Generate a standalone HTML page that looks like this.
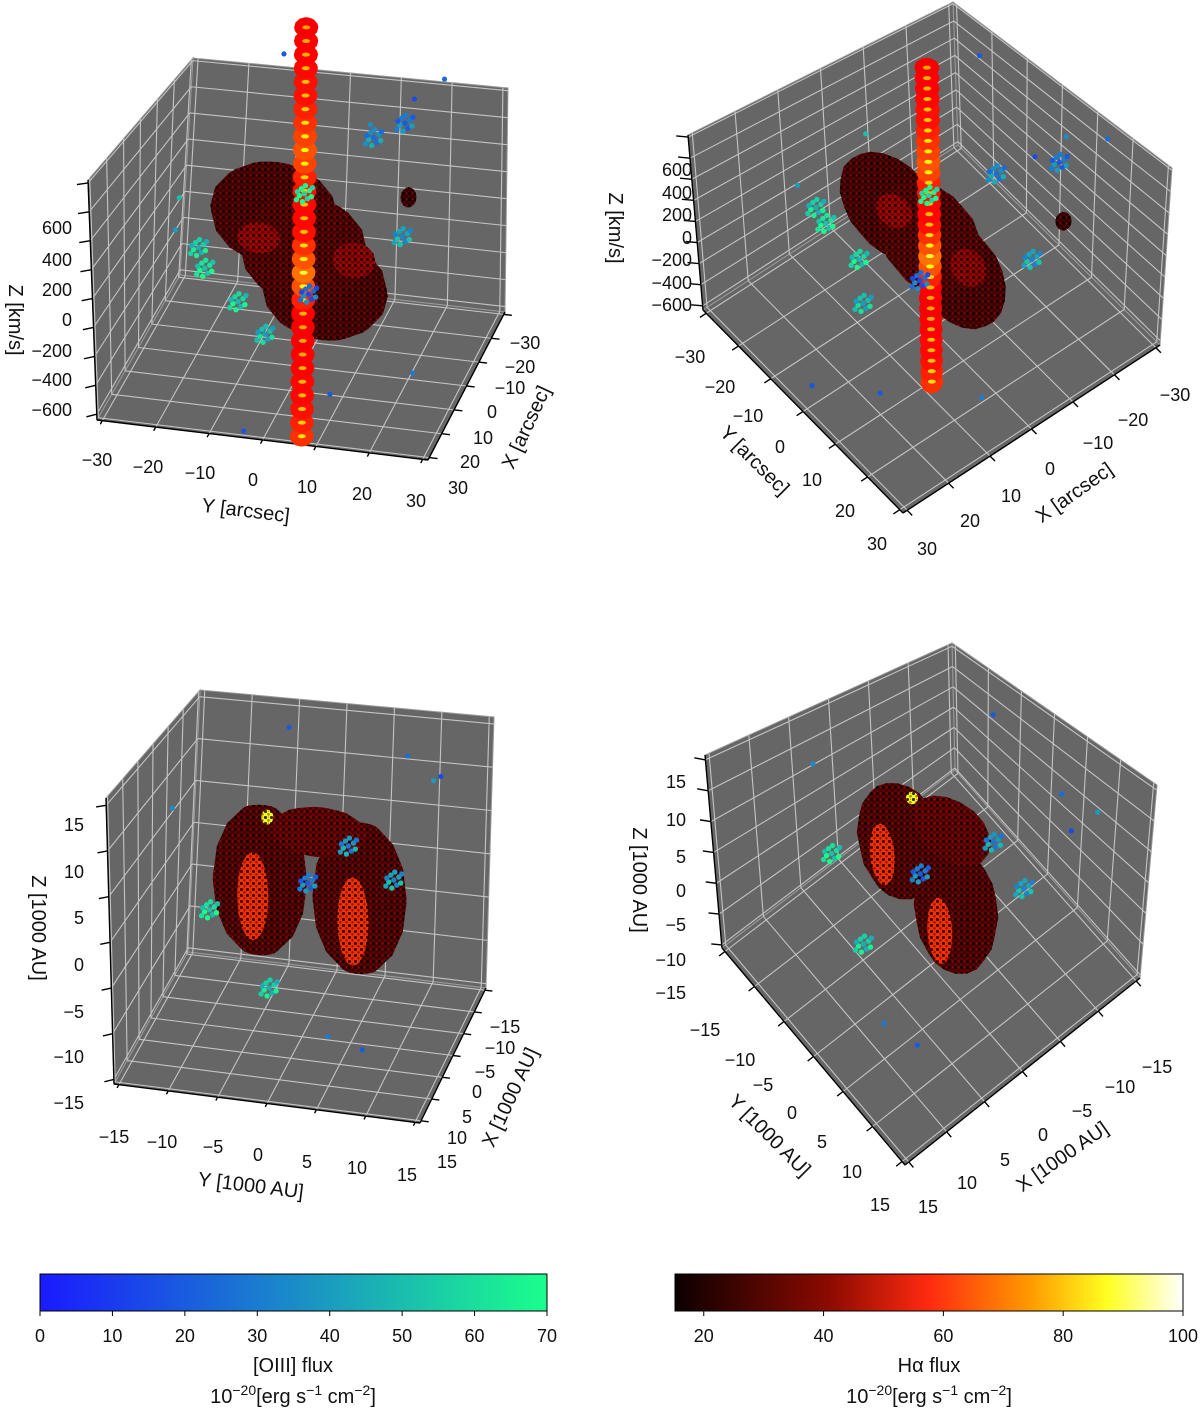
<!DOCTYPE html>
<html><head><meta charset="utf-8">
<style>
html,body{margin:0;padding:0;background:#fff;}
svg{display:block;font-family:"Liberation Sans","DejaVu Sans",sans-serif;}
.tk{font-size:18px;fill:#111;}
.tt{font-size:20px;fill:#111;}
</style></head>
<body>
<svg id="fig" width="1200" height="1409" viewBox="0 0 1200 1409" xmlns="http://www.w3.org/2000/svg">
<defs>
<pattern id="speck" width="6" height="6" patternUnits="userSpaceOnUse">
<circle cx="1.5" cy="1.5" r="1.6" fill="#000" opacity="0.8"/>
<circle cx="4.5" cy="4.3" r="1.3" fill="#000" opacity="0.45"/>
<circle cx="4.6" cy="1.2" r="0.8" fill="#c02000" opacity="0.5"/>
</pattern>
<linearGradient id="gWinter" x1="0" x2="1" y1="0" y2="0">
<stop offset="0" stop-color="#1a1aff"/><stop offset="0.5" stop-color="#1a8cc8"/><stop offset="1" stop-color="#1aff8c"/>
</linearGradient>
<linearGradient id="gHot" x1="0" x2="1" y1="0" y2="0">
<stop offset="0" stop-color="#0b0000"/><stop offset="0.3" stop-color="#8a0a00"/><stop offset="0.5" stop-color="#ff2a10"/><stop offset="0.7" stop-color="#ff9a00"/><stop offset="0.85" stop-color="#ffff20"/><stop offset="1" stop-color="#ffffff"/>
</linearGradient>
</defs>
<g id="panels"></g>

<g class="tk">
<text x="72" y="234" text-anchor="end">600</text><text x="72" y="266" text-anchor="end">400</text><text x="72" y="296" text-anchor="end">200</text><text x="72" y="326" text-anchor="end">0</text><text x="72" y="357" text-anchor="end">−200</text><text x="72" y="386" text-anchor="end">−400</text><text x="72" y="416" text-anchor="end">−600</text>
<text x="97" y="466" text-anchor="middle">−30</text><text x="148" y="473" text-anchor="middle">−20</text><text x="200" y="479" text-anchor="middle">−10</text><text x="253" y="486" text-anchor="middle">0</text><text x="307" y="493" text-anchor="middle">10</text><text x="362" y="500" text-anchor="middle">20</text><text x="416" y="507" text-anchor="middle">30</text>
<text x="525" y="349" text-anchor="middle">−30</text><text x="520" y="373" text-anchor="middle">−20</text><text x="510" y="394" text-anchor="middle">−10</text><text x="492" y="418" text-anchor="middle">0</text><text x="483" y="444" text-anchor="middle">10</text><text x="470" y="468" text-anchor="middle">20</text><text x="458" y="494" text-anchor="middle">30</text>
</g>
<text class="tt" transform="translate(9,320) rotate(90)" text-anchor="middle">Z [km/s]</text>
<text class="tt" transform="translate(245,517) rotate(7)" text-anchor="middle">Y [arcsec]</text>
<text class="tt" transform="translate(532,430) rotate(-65)" text-anchor="middle">X [arcsec]</text>

<g class="tk">
<text x="692" y="176" text-anchor="end">600</text><text x="692" y="199" text-anchor="end">400</text><text x="692" y="221" text-anchor="end">200</text><text x="692" y="244" text-anchor="end">0</text><text x="692" y="266" text-anchor="end">−200</text><text x="692" y="289" text-anchor="end">−400</text><text x="692" y="311" text-anchor="end">−600</text>
<text x="690" y="363" text-anchor="middle">−30</text><text x="720" y="393" text-anchor="middle">−20</text><text x="748" y="422" text-anchor="middle">−10</text><text x="780" y="453" text-anchor="middle">0</text><text x="812" y="486" text-anchor="middle">10</text><text x="845" y="517" text-anchor="middle">20</text><text x="877" y="550" text-anchor="middle">30</text>
<text x="1175" y="401" text-anchor="middle">−30</text><text x="1133" y="426" text-anchor="middle">−20</text><text x="1098" y="449" text-anchor="middle">−10</text><text x="1050" y="475" text-anchor="middle">0</text><text x="1011" y="502" text-anchor="middle">10</text><text x="970" y="527" text-anchor="middle">20</text><text x="927" y="555" text-anchor="middle">30</text>
</g>
<text class="tt" transform="translate(609,228) rotate(90)" text-anchor="middle">Z [km/s]</text>
<text class="tt" transform="translate(750,465) rotate(45)" text-anchor="middle">Y [arcsec]</text>
<text class="tt" transform="translate(1078,498) rotate(-35)" text-anchor="middle">X [arcsec]</text>

<g class="tk">
<text x="84" y="831" text-anchor="end">15</text><text x="84" y="878" text-anchor="end">10</text><text x="84" y="924" text-anchor="end">5</text><text x="84" y="971" text-anchor="end">0</text><text x="84" y="1018" text-anchor="end">−5</text><text x="84" y="1063" text-anchor="end">−10</text><text x="84" y="1109" text-anchor="end">−15</text>
<text x="114" y="1143" text-anchor="middle">−15</text><text x="162" y="1148" text-anchor="middle">−10</text><text x="213" y="1153" text-anchor="middle">−5</text><text x="258" y="1161" text-anchor="middle">0</text><text x="307" y="1168" text-anchor="middle">5</text><text x="357" y="1174" text-anchor="middle">10</text><text x="407" y="1181" text-anchor="middle">15</text>
<text x="505" y="1033" text-anchor="middle">−15</text><text x="500" y="1054" text-anchor="middle">−10</text><text x="485" y="1078" text-anchor="middle">−5</text><text x="477" y="1098" text-anchor="middle">0</text><text x="467" y="1123" text-anchor="middle">5</text><text x="457" y="1144" text-anchor="middle">10</text><text x="447" y="1168" text-anchor="middle">15</text>
</g>
<text class="tt" transform="translate(32,928) rotate(90)" text-anchor="middle">Z [1000 AU]</text>
<text class="tt" transform="translate(250,1192) rotate(7)" text-anchor="middle">Y [1000 AU]</text>
<text class="tt" transform="translate(516,1100) rotate(-65)" text-anchor="middle">X [1000 AU]</text>

<g class="tk">
<text x="686" y="788" text-anchor="end">15</text><text x="686" y="826" text-anchor="end">10</text><text x="686" y="863" text-anchor="end">5</text><text x="686" y="897" text-anchor="end">0</text><text x="686" y="931" text-anchor="end">−5</text><text x="686" y="966" text-anchor="end">−10</text><text x="686" y="999" text-anchor="end">−15</text>
<text x="705" y="1036" text-anchor="middle">−15</text><text x="740" y="1066" text-anchor="middle">−10</text><text x="763" y="1091" text-anchor="middle">−5</text><text x="792" y="1119" text-anchor="middle">0</text><text x="822" y="1148" text-anchor="middle">5</text><text x="852" y="1178" text-anchor="middle">10</text><text x="880" y="1211" text-anchor="middle">15</text>
<text x="1157" y="1073" text-anchor="middle">−15</text><text x="1120" y="1093" text-anchor="middle">−10</text><text x="1082" y="1117" text-anchor="middle">−5</text><text x="1043" y="1141" text-anchor="middle">0</text><text x="1005" y="1166" text-anchor="middle">5</text><text x="967" y="1189" text-anchor="middle">10</text><text x="928" y="1213" text-anchor="middle">15</text>
</g>
<text class="tt" transform="translate(633,880) rotate(90)" text-anchor="middle">Z [1000 AU]</text>
<text class="tt" transform="translate(765,1140) rotate(45)" text-anchor="middle">Y [1000 AU]</text>
<text class="tt" transform="translate(1066,1162) rotate(-35)" text-anchor="middle">X [1000 AU]</text>

<g>
<rect x="40" y="1274" width="507" height="37" fill="url(#gWinter)" stroke="#000" stroke-width="1"/>
<g id="cb1ticks" class="tk"></g>
<text class="tt" x="293" y="1372" text-anchor="middle">[OIII] flux</text>
<text class="tt" x="293" y="1403" text-anchor="middle">10<tspan dy="-8" font-size="14">−20</tspan><tspan dy="8">[erg s</tspan><tspan dy="-8" font-size="14">−1</tspan><tspan dy="8"> cm</tspan><tspan dy="-8" font-size="14">−2</tspan><tspan dy="8">]</tspan></text>
</g>
<g>
<rect x="675" y="1274" width="508" height="37" fill="url(#gHot)" stroke="#000" stroke-width="1"/>
<g id="cb2ticks" class="tk"></g>
<text class="tt" x="929" y="1372" text-anchor="middle">Hα flux</text>
<text class="tt" x="929" y="1403" text-anchor="middle">10<tspan dy="-8" font-size="14">−20</tspan><tspan dy="8">[erg s</tspan><tspan dy="-8" font-size="14">−1</tspan><tspan dy="8"> cm</tspan><tspan dy="-8" font-size="14">−2</tspan><tspan dy="8">]</tspan></text>
</g>
</svg>

<script>
const ticksArcsec = [-30,-20,-10,0,10,20,30];
const ticksKms = [-600,-400,-200,0,200,400,600,800,1000];
const ticksAU = [-15,-10,-5,0,5,10,15];
const cbOiiiTicks = [0,10,20,30,40,50,60,70];
const cbHaTicks = [20,40,60,80,100];

// Dataset A (arcsec, km/s)
const bodyA_X = [6,-4,0,2,-2,-19.7];
const bodyA_Y = [-4,3,0,-8,9,14.8];
const bodyA_Z = [560,-120,220,300,150,340];
const bodyA_RX = [7,7,8,3,3,1.5];
const bodyA_RY = [12,12,12,4,4,1.5];
const bodyA_RZ = [360,360,380,100,120,70];
const bodyA_F = [24,24,25,33,32,22];
const jetA_Z = [-1150,-1050,-950,-850,-750,-650,-550,-450,-350,-250,-150,-50,50,150,250,350,450,550,650,750,850,950,1050,1150,1250,1350,1450,1550,1650,1750,1850];
const jetA_F = [52,50,48,47,47,46,45,44,44,46,50,56,60,56,52,48,47,47,48,50,54,56,54,52,50,48,48,47,46,45,44];
const oA_X = [12.4,-11.7,0,13,-6.7,9,-19,4,14];
const oA_Y = [-15.3,15.7,0,-3.9,11.2,-10,14,2,-16];
const oA_Z = [210,191,630,-200,987,-60,900,-30,380];
const oA_F = [62,42,68,50,35,58,30,25,55];
const sA_X = [-20,-25,15,-10,5,20,-28,25,-5];
const sA_Y = [-10,20,-20,18,22,10,5,-5,-25];
const sA_Z = [1300,1150,500,1250,-500,-450,700,-700,400];
const sA_F = [20,25,40,15,30,20,35,18,50];

// Dataset B (1000 AU)
const bodyB_X = [0.5,1.6,-2,2.5,3.5,-1];
const bodyB_Y = [-4.3,6.2,1,-4.5,6,-4];
const bodyB_Z = [2,1.8,7,1,0,8.5];
const bodyB_RX = [3.8,3.8,3,1,1,0.6];
const bodyB_RY = [4.8,4.8,5,1.6,1.6,0.6];
const bodyB_RZ = [8.5,8.5,2.5,5,5,0.8];
const bodyB_F = [25,25,27,52,52,80];
const oB_X = [6.3,-5.7,-5.5,7.4,2];
const oB_Y = [-7.9,7.9,3.2,-1.6,1];
const oB_Z = [0.7,0.7,4.1,-6.7,3];
const oB_F = [60,42,38,55,30];
const sB_X = [-12,-10,5,-8,10,-13,8];
const sB_Y = [-5,8,-12,12,5,10,8];
const sB_Z = [14,13,11,12,-10,9,-12];
const sB_F = [20,25,35,15,30,40,20];

const DS = {
  A:{u0:-31,u1:31,v0:-31,v1:31,w0:-640,w1:1020,tu:ticksArcsec,tv:ticksArcsec,tw:ticksKms},
  B:{u0:-15.5,u1:15.5,v0:-15.5,v1:15.5,w0:-15.5,w1:15.8,tu:ticksAU,tv:ticksAU,tw:ticksAU}
};
const PANELS = [
  {name:'panel1',ds:'A',f:{mm:[180,275],pm:[505,312],mp:[97,420],pp:[428,460]},t:{mm:[193,58],pm:[508,88],mp:[88,180],pp:[431,236]}},
  {name:'panel2',ds:'A',f:{mm:[958,145],pm:[1160,345],mp:[703,310],pp:[903,513]},t:{mm:[953,2],pm:[1172,168],mp:[688,135],pp:[900,313]}},
  {name:'panel3',ds:'B',f:{mm:[188,952],pm:[486,988],mp:[114,1084],pp:[420,1123]},t:{mm:[200,690],pm:[494,717],mp:[106,798],pp:[416,840]}},
  {name:'panel4',ds:'B',f:{mm:[955,770],pm:[1140,978],mp:[722,948],pp:[905,1165]},t:{mm:[952,643],pm:[1157,785],mp:[705,755],pp:[903,950]}}
];
const NS='http://www.w3.org/2000/svg';
function el(tag,attrs,parent){const e=document.createElementNS(NS,tag);for(const k in attrs)e.setAttribute(k,attrs[k]);if(parent)parent.appendChild(e);return e;}
function proj(p,u,v,w){
  const d=DS[p.ds];
  const a=(u-d.u0)/(d.u1-d.u0), b=(v-d.v0)/(d.v1-d.v0), c=(w-d.w0)/(d.w1-d.w0);
  const bil=(q,i)=>q.mm[i]*(1-a)*(1-b)+q.pm[i]*a*(1-b)+q.mp[i]*(1-a)*b+q.pp[i]*a*b;
  const fx=bil(p.f,0),fy=bil(p.f,1),tx=bil(p.t,0),ty=bil(p.t,1);
  return [fx+c*(tx-fx),fy+c*(ty-fy)];
}
function hull(pts){
  pts.sort((a,b)=>a[0]-b[0]||a[1]-b[1]);
  const cr=(o,a,b)=>(a[0]-o[0])*(b[1]-o[1])-(a[1]-o[1])*(b[0]-o[0]);
  const lo=[],up=[];
  for(const p of pts){while(lo.length>=2&&cr(lo[lo.length-2],lo[lo.length-1],p)<=0)lo.pop();lo.push(p);}
  for(let i=pts.length-1;i>=0;i--){const p=pts[i];while(up.length>=2&&cr(up[up.length-2],up[up.length-1],p)<=0)up.pop();up.push(p);}
  up.pop();lo.pop();return lo.concat(up);
}
function clamp(x){return Math.max(0,Math.min(1,x));}
function hot(f){const t=clamp((f-15.2)/(100-15.2));const r=clamp(0.04+t/0.365),g=clamp((t-0.365)/0.365),b=clamp((t-0.73)/0.27);return `rgb(${Math.round(r*255)},${Math.round(g*255)},${Math.round(b*255)})`;}
function winter(f){const t=clamp(f/70);return `rgb(26,${Math.round(26+t*229)},${Math.round(255-t*115)})`;}
const ptsStr=a=>a.map(p=>p[0].toFixed(1)+','+p[1].toFixed(1)).join(' ');

function ellipsoid(p,g,x,y,z,rx,ry,rz,fill,name,speck){
  const pts=[];
  for(let i=0;i<16;i++)for(let j=0;j<=8;j++){
    const th=i/16*2*Math.PI, ph=j/8*Math.PI;
    pts.push(proj(p,y+ry*Math.sin(ph)*Math.cos(th),x+rx*Math.sin(ph)*Math.sin(th),z+rz*Math.cos(ph)));
  }
  const h=hull(pts);
  const e=el('polygon',{points:ptsStr(h),fill:fill},g);
  
  
  if(speck){
    const s=el('polygon',{points:ptsStr(h),fill:'url(#speck)'},g);
    
    
  }
}
const CLUSTER=[[0,0],[5,-3],[-5,2],[3,5],[-3,-5],[7,3],[-7,-2],[1,-8],[-2,8],[8,-6],[-8,6]];

PANELS.forEach((p,pi)=>{
  const d=DS[p.ds];
  const g=el('g',{},document.getElementById('panels'));
  
  
  const paneDefs=[
    ['back-pane',[[d.u0,d.v0,d.w0],[d.u1,d.v0,d.w0],[d.u1,d.v0,d.w1],[d.u0,d.v0,d.w1]]],
    ['side-pane',[[d.u0,d.v0,d.w0],[d.u0,d.v1,d.w0],[d.u0,d.v1,d.w1],[d.u0,d.v0,d.w1]]],
    ['floor-pane',[[d.u0,d.v0,d.w0],[d.u1,d.v0,d.w0],[d.u1,d.v1,d.w0],[d.u0,d.v1,d.w0]]]
  ];
  paneDefs.forEach(([nm,c])=>{
    const e=el('polygon',{points:ptsStr(c.map(q=>proj(p,...q))),fill:'#666666',stroke:'#9a9a9a','stroke-width':1},g);
    
    
  });
  const gg=el('g',{stroke:'#c4c4c4','stroke-width':1.1,fill:'none'},g);
  
  
  const line=(a,b)=>{const A=proj(p,...a),B=proj(p,...b);el('line',{x1:A[0],y1:A[1],x2:B[0],y2:B[1]},gg);};
  d.tu.forEach(u=>{line([u,d.v0,d.w0],[u,d.v0,d.w1]);line([u,d.v0,d.w0],[u,d.v1,d.w0]);});
  d.tv.forEach(v=>{line([d.u0,v,d.w0],[d.u0,v,d.w1]);line([d.u0,v,d.w0],[d.u1,v,d.w0]);});
  d.tw.forEach(w=>{line([d.u0,d.v0,w],[d.u1,d.v0,w]);line([d.u0,d.v0,w],[d.u0,d.v1,w]);});
  const ax=el('g',{stroke:'#000','stroke-width':1.4},g);
  
  
  const aline=(a,b)=>{const A=proj(p,...a),B=proj(p,...b);el('line',{x1:A[0],y1:A[1],x2:B[0],y2:B[1]},ax);};
  aline([d.u0,d.v1,d.w0],[d.u0,d.v1,d.w1]);
  aline([d.u0,d.v1,d.w0],[d.u1,d.v1,d.w0]);
  aline([d.u1,d.v0,d.w0],[d.u1,d.v1,d.w0]);
  const du=(d.u1-d.u0)*0.025, dv=(d.v1-d.v0)*0.025;
  d.tw.forEach(w=>aline([d.u0,d.v1,w],[d.u0-du,d.v1+dv,w]));
  d.tu.forEach(u=>aline([u,d.v1,d.w0],[u,d.v1+dv,d.w0]));
  d.tv.forEach(v=>aline([d.u1,v,d.w0],[d.u1+du,v,d.w0]));
  const dg=el('g',{},g);
  
  
  const A=p.ds==='A';
  const bX=A?bodyA_X:bodyB_X,bY=A?bodyA_Y:bodyB_Y,bZ=A?bodyA_Z:bodyB_Z,bRX=A?bodyA_RX:bodyB_RX,bRY=A?bodyA_RY:bodyB_RY,bRZ=A?bodyA_RZ:bodyB_RZ,bF=A?bodyA_F:bodyB_F;
  for(let i=0;i<bX.length;i++) ellipsoid(p,dg,bX[i],bY[i],bZ[i],bRX[i],bRY[i],bRZ[i],hot(bF[i]),'halpha-blob',true);
  if(A){
    for(let i=0;i<jetA_Z.length;i++){
      ellipsoid(p,dg,0,0,jetA_Z[i],2.2,2.2,65,hot(jetA_F[i]),'jet-segment',false);
    }
    for(let i=0;i<jetA_Z.length;i++){
      const c=proj(p,0,0,jetA_Z[i]);
      const e=el('ellipse',{cx:c[0],cy:c[1],rx:4,ry:2,fill:hot(jetA_F[i]+22)},dg);
      
      
    }
  }
  const cX=A?oA_X:oB_X,cY=A?oA_Y:oB_Y,cZ=A?oA_Z:oB_Z,cF=A?oA_F:oB_F;
  for(let i=0;i<cX.length;i++){
    const c=proj(p,cY[i],cX[i],cZ[i]);
    CLUSTER.forEach((o,k)=>{
      const e=el('circle',{cx:c[0]+o[0],cy:c[1]+o[1],r:2.7,fill:winter(cF[i]+((k%3)-1)*10)},dg);
      
      
    });
  }
  const sX=A?sA_X:sB_X,sY=A?sA_Y:sB_Y,sZ=A?sA_Z:sB_Z,sF=A?sA_F:sB_F;
  for(let i=0;i<sX.length;i++){
    const c=proj(p,sY[i],sX[i],sZ[i]);
    const e=el('circle',{cx:c[0],cy:c[1],r:2.6,fill:winter(sF[i])},dg);
    
    
  }
});

function cbTicks(id,ticks,x0,x1,v0,v1){
  const g=document.getElementById(id);
  ticks.forEach(t=>{
    const x=x0+(t-v0)/(v1-v0)*(x1-x0);
    const l=el('line',{x1:x,y1:1311,x2:x,y2:1316,stroke:'#000','stroke-width':1},g);
    
    
    const tx=el('text',{x:x,y:1342,'text-anchor':'middle'},g);
    tx.textContent=t;
    
    
  });
}
cbTicks('cb1ticks',cbOiiiTicks,40,547,0,70);
cbTicks('cb2ticks',cbHaTicks,675,1183,15.2,100);
</script>
</body></html>
